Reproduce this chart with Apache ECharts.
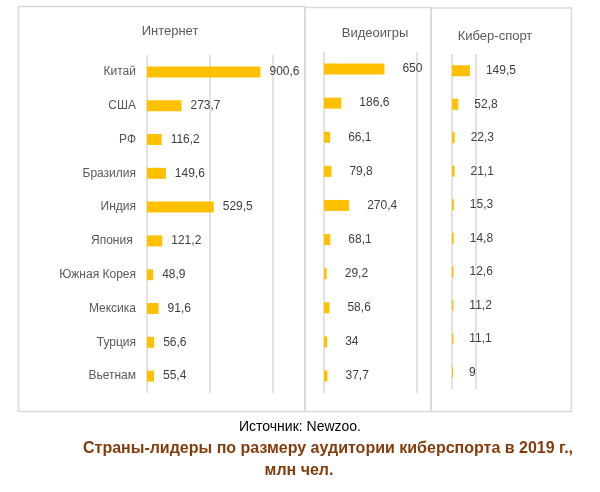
<!DOCTYPE html>
<html>
<head>
<meta charset="utf-8">
<script src="https://cdn.jsdelivr.net/npm/echarts@6/dist/echarts.min.js"></script>
<style>html,body{margin:0;padding:0;background:#fff}#c{width:600px;height:492px}</style>
</head>
<body>
<div id="c"></div>
<script>
const countries = ['Китай','США','РФ','Бразилия','Индия','Япония ','Южная Корея','Мексика','Турция','Вьетнам'];
const internet = [900.6,273.7,116.2,149.6,529.5,121.2,48.9,91.6,56.6,55.4];
const videogames = [650,186.6,66.1,79.8,270.4,68.1,29.2,58.6,34,37.7];
const esports = [149.5,52.8,22.3,21.1,15.3,14.8,12.6,11.2,11.1,9];
const panelTitles = ['Интернет','Видеоигры','Кибер-спорт'];
const sourceText = 'Источник: Newzoo.';
const captionLine1 = 'Страны-лидеры по размеру аудитории киберспорта в 2019 г.,';
const captionLine2 = 'млн чел.';

const FONT = 'Liberation Sans';
const chart = echarts.init(document.getElementById('c'), null, {renderer:'canvas'});
const fmt = v => String(v).replace('.', ',');

const grids = [
  {left:147, width:126, top:55, height:338},
  {left:324, width:93, top:52, height:341},
  {left:452, width:24, top:54, height:335}
];
const maxes = [1000, 1000, 200];
const intervals = [500, 1000, 200];
const datas = [internet, videogames, esports];
const dists = [9, 18, 16];

const xAxes = grids.map((g,i)=>({
  gridIndex:i, type:'value', min:0, max:maxes[i], interval:intervals[i],
  axisLabel:{show:false}, axisLine:{show:false}, axisTick:{show:false},
  splitLine:{show:true, lineStyle:{color:'#d9d9d9', width:1.5}}
}));
const yAxes = grids.map((g,i)=>({
  gridIndex:i, type:'category', data:countries, inverse:true,
  axisLine:{show:false}, axisTick:{show:false},
  axisLabel:{show:i===0, margin:11, color:'#595959', fontSize:12, fontFamily:FONT}
}));
const series = datas.map((d,i)=>({
  type:'bar', xAxisIndex:i, yAxisIndex:i, data:d, barWidth:11,
  itemStyle:{color:'#FFC000'},
  label:{show:true, position:'right', distance:dists[i], color:'#404040', fontSize:12, fontFamily:FONT,
    formatter:p=>fmt(p.value)},
  silent:true, animation:false
}));

chart.setOption({
  animation:false,
  grid:grids.map(g=>Object.assign({containLabel:false}, g)),
  xAxis:xAxes, yAxis:yAxes, series:series,
  title:[
    {text:panelTitles[0], left:165, top:20, textAlign:'center', textStyle:{fontSize:13, fontWeight:'normal', color:'#595959', fontFamily:FONT}},
    {text:panelTitles[1], left:370, top:22, textAlign:'center', textStyle:{fontSize:13, fontWeight:'normal', color:'#595959', fontFamily:FONT}},
    {text:panelTitles[2], left:490, top:25, textAlign:'center', textStyle:{fontSize:13, fontWeight:'normal', color:'#595959', fontFamily:FONT}},
    {text:sourceText, left:295, top:415, textAlign:'center', textStyle:{fontSize:14, fontWeight:'normal', color:'#000', fontFamily:FONT}},
    {text:captionLine1, left:323, top:436, textAlign:'center', textStyle:{fontSize:16, fontWeight:'bold', color:'#843C0C', fontFamily:FONT}},
    {text:captionLine2, left:294, top:458, textAlign:'center', textStyle:{fontSize:16, fontWeight:'bold', color:'#843C0C', fontFamily:FONT}}
  ],
  graphic:[
    {type:'rect', shape:{x:18.5, y:6.5, width:286.5, height:405}, style:{fill:null, stroke:'#d9d9d9', lineWidth:1.5}, silent:true},
    {type:'rect', shape:{x:305, y:7.5, width:126, height:404}, style:{fill:null, stroke:'#d9d9d9', lineWidth:1.5}, silent:true},
    {type:'rect', shape:{x:431, y:8, width:140.5, height:403.5}, style:{fill:null, stroke:'#d9d9d9', lineWidth:1.5}, silent:true}
  ]
});
</script>
</body>
</html>
